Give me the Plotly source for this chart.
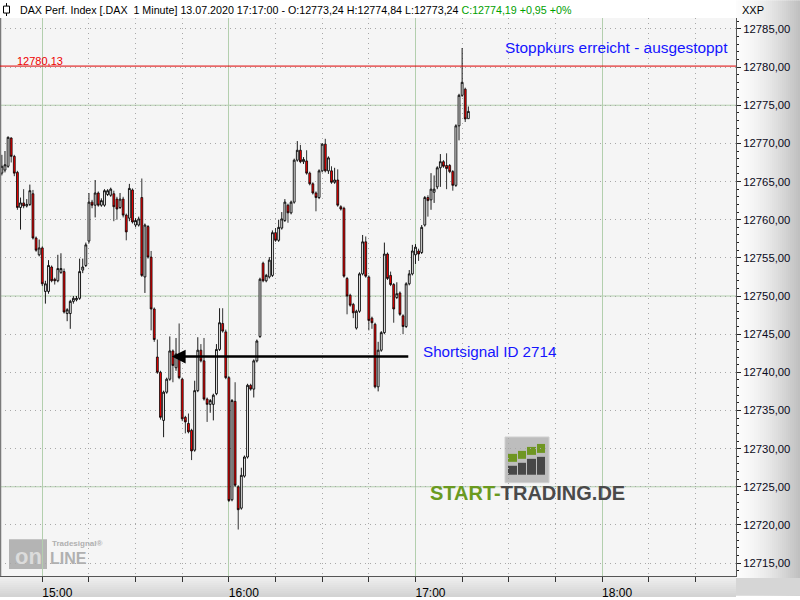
import pandas as pd
import plotly.graph_objects as go

# ---------------- data (1-minute candles, DAX 13.07.2020) ----------------
start_time = "2020-07-13 14:47"
open_ = [
    12766.1, 12766.5, 12767.0, 12770.7, 12768.3, 12766.2, 12761.6, 12762.2, 12761.8, 12762.0,
    12763.4, 12757.6, 12755.4, 12756.3, 12750.6, 12750.6, 12753.8, 12752.2, 12752.0, 12753.1,
    12753.2, 12747.7, 12747.7, 12749.3, 12749.5, 12749.7, 12753.4, 12754.0, 12757.2, 12762.3,
    12761.9, 12763.5, 12761.9, 12761.9, 12763.3, 12763.2, 12763.4, 12762.7, 12761.6, 12762.7,
    12760.6, 12760.2, 12763.9, 12759.3, 12759.3, 12762.9, 12752.5, 12759.1, 12755.1, 12748.3,
    12742.0, 12740.0, 12733.7, 12737.4, 12739.1, 12742.8, 12740.6, 12741.7, 12739.1, 12734.1,
    12733.3, 12732.4, 12729.8, 12737.6, 12742.9, 12741.5, 12736.5, 12735.8, 12735.8, 12737.2,
    12743.0, 12746.4, 12745.3, 12739.3, 12723.3, 12736.2, 12725.0, 12722.2, 12726.4, 12728.9,
    12738.3, 12737.8, 12741.5, 12744.7, 12754.3, 12752.0, 12752.5, 12752.7, 12758.3, 12757.3,
    12758.9, 12759.9, 12761.9, 12760.9, 12762.3, 12767.8, 12769.1, 12767.6, 12767.7, 12766.1,
    12764.7, 12763.5, 12762.9, 12766.4, 12769.9, 12766.4, 12766.4, 12764.9, 12765.2, 12761.7,
    12761.5, 12752.3, 12750.1, 12748.9, 12745.8, 12748.0, 12752.9, 12757.1, 12752.5, 12747.1,
    12746.3, 12738.1, 12742.9, 12745.2, 12755.5, 12752.7, 12751.5, 12749.8, 12750.4, 12747.4,
    12746.0, 12751.6, 12752.9, 12755.4, 12755.9, 12755.7, 12759.3, 12762.9, 12762.6, 12763.6,
    12764.3, 12766.8, 12767.6, 12767.1, 12767.1, 12766.3, 12764.5, 12772.3, 12776.3, 12777.1,
    12773.24,
]
high = [
    12768.5, 12769.0, 12770.9, 12770.8, 12768.5, 12766.4, 12762.9, 12764.0, 12762.7, 12764.6,
    12763.9, 12757.8, 12757.4, 12756.5, 12752.0, 12754.7, 12754.0, 12752.4, 12755.4, 12755.6,
    12753.6, 12748.4, 12749.5, 12750.0, 12750.0, 12754.9, 12754.9, 12757.0, 12763.5, 12762.6,
    12765.2, 12763.7, 12762.8, 12764.0, 12764.0, 12764.2, 12763.8, 12763.0, 12763.5, 12763.0,
    12760.8, 12764.7, 12764.1, 12760.2, 12760.4, 12765.4, 12759.5, 12759.3, 12755.9, 12748.5,
    12744.3, 12740.2, 12737.6, 12739.3, 12744.7, 12743.0, 12744.5, 12746.4, 12739.3, 12734.3,
    12734.6, 12732.6, 12738.9, 12744.6, 12743.7, 12744.5, 12736.7, 12736.5, 12737.2, 12743.7,
    12748.4, 12748.4, 12745.6, 12739.5, 12736.5, 12738.7, 12725.2, 12727.5, 12729.1, 12738.5,
    12738.5, 12741.7, 12744.3, 12752.4, 12754.5, 12752.9, 12755.1, 12758.6, 12758.9, 12760.0,
    12761.0, 12762.7, 12762.1, 12762.5, 12768.0, 12770.3, 12769.8, 12768.2, 12769.1, 12766.3,
    12764.9, 12763.7, 12766.6, 12770.0, 12770.6, 12768.3, 12767.0, 12766.8, 12766.6, 12761.9,
    12761.7, 12752.5, 12750.3, 12749.1, 12748.2, 12753.1, 12758.0, 12757.8, 12752.7, 12747.3,
    12746.5, 12744.0, 12745.4, 12757.0, 12755.7, 12753.2, 12751.7, 12751.8, 12750.6, 12747.6,
    12751.8, 12753.4, 12756.7, 12756.8, 12756.2, 12759.3, 12763.1, 12763.2, 12766.1, 12765.8,
    12767.0, 12768.6, 12767.8, 12768.7, 12767.3, 12766.5, 12772.5, 12776.5, 12782.5, 12777.3,
    12774.84,
]
low = [
    12765.8, 12766.2, 12766.8, 12767.5, 12765.7, 12761.3, 12758.7, 12761.5, 12761.6, 12761.8,
    12757.4, 12755.8, 12755.2, 12751.3, 12749.0, 12750.3, 12751.8, 12751.5, 12751.8, 12752.9,
    12747.7, 12746.7, 12745.7, 12749.0, 12749.3, 12749.5, 12753.0, 12753.8, 12756.9, 12761.5,
    12760.3, 12761.7, 12761.7, 12761.7, 12763.1, 12763.0, 12759.8, 12760.0, 12761.4, 12760.3,
    12757.3, 12759.8, 12759.5, 12759.0, 12759.1, 12752.5, 12750.4, 12754.9, 12745.5, 12744.0,
    12739.8, 12733.8, 12731.5, 12737.2, 12738.9, 12738.7, 12740.2, 12739.1, 12733.6, 12732.0,
    12732.0, 12728.5, 12729.6, 12737.4, 12741.3, 12736.3, 12733.5, 12734.7, 12733.7, 12737.0,
    12742.8, 12745.2, 12739.1, 12723.0, 12723.1, 12725.0, 12719.4, 12722.0, 12726.2, 12728.7,
    12737.6, 12736.7, 12741.3, 12744.5, 12751.8, 12751.8, 12752.3, 12752.5, 12757.1, 12757.1,
    12758.7, 12759.7, 12759.6, 12760.7, 12762.1, 12767.6, 12767.4, 12767.3, 12765.9, 12764.5,
    12763.3, 12761.1, 12762.7, 12766.2, 12766.2, 12766.0, 12764.7, 12764.7, 12761.7, 12761.2,
    12752.4, 12747.6, 12748.6, 12747.1, 12745.6, 12747.8, 12752.7, 12752.4, 12745.5, 12745.7,
    12737.9, 12737.5, 12742.7, 12745.0, 12752.1, 12751.3, 12746.5, 12749.6, 12747.4, 12745.0,
    12745.8, 12751.4, 12752.7, 12754.2, 12754.6, 12755.5, 12759.1, 12760.4, 12761.3, 12762.2,
    12764.0, 12764.3, 12766.8, 12764.0, 12766.1, 12763.8, 12764.3, 12770.4, 12776.1, 12772.8,
    12773.24,
]
close = [
    12767.0, 12767.2, 12770.8, 12768.3, 12766.1, 12761.6, 12762.2, 12761.8, 12762.0, 12763.8,
    12757.6, 12756.0, 12756.3, 12751.6, 12751.6, 12754.0, 12752.0, 12752.0, 12753.6, 12753.6,
    12747.9, 12748.2, 12749.3, 12749.7, 12749.7, 12753.2, 12753.8, 12756.7, 12762.3, 12761.9,
    12763.5, 12761.9, 12762.5, 12763.8, 12763.8, 12764.0, 12761.7, 12761.4, 12762.7, 12760.6,
    12758.4, 12764.1, 12759.7, 12759.9, 12760.1, 12752.7, 12759.3, 12755.1, 12748.3, 12744.3,
    12740.0, 12734.1, 12737.4, 12739.1, 12742.8, 12740.9, 12742.4, 12739.3, 12733.9, 12733.5,
    12732.2, 12729.7, 12737.6, 12742.9, 12741.5, 12736.5, 12735.8, 12736.3, 12737.0, 12743.0,
    12746.5, 12745.4, 12739.3, 12723.2, 12736.3, 12725.2, 12722.0, 12726.5, 12728.9, 12738.3,
    12737.8, 12741.5, 12744.1, 12752.2, 12752.0, 12752.7, 12754.7, 12758.3, 12757.3, 12759.0,
    12760.1, 12762.3, 12760.9, 12762.3, 12767.8, 12769.1, 12767.6, 12767.9, 12766.1, 12764.7,
    12763.5, 12762.9, 12766.4, 12769.9, 12766.4, 12768.1, 12764.9, 12765.2, 12761.9, 12761.4,
    12752.6, 12750.0, 12748.8, 12747.8, 12748.0, 12752.9, 12757.1, 12752.6, 12746.8, 12746.5,
    12738.1, 12742.9, 12745.2, 12755.5, 12752.3, 12751.5, 12748.3, 12750.3, 12747.6, 12746.0,
    12751.6, 12752.9, 12755.9, 12756.4, 12755.5, 12759.0, 12762.9, 12762.5, 12764.0, 12764.0,
    12766.8, 12767.6, 12767.0, 12766.7, 12766.3, 12764.5, 12772.3, 12776.3, 12778.0, 12773.2,
    12774.19,
]
times = pd.date_range(start_time, periods=len(close), freq="min")

stop_price = 12780.13
stop_label = "12780,13"
signal_price = 12742.07
signal_from = "2020-07-13 16:58:10"
signal_to = "2020-07-13 15:41:40"
y_ticks = [12715, 12720, 12725, 12730, 12735, 12740, 12745, 12750, 12755, 12760,
           12765, 12770, 12775, 12780, 12785]
green_levels = [12725, 12750, 12775]

header_text = ("DAX Perf. Index [.DAX  1 Minute] 13.07.2020 17:17:00 - "
               "O:12773,24 H:12774,84 L:12773,24 ")
header_green = "C:12774,19 +0,95 +0%"

# ---------------- layout helpers (pixel -> paper) ----------------
W, H = 800, 600
L_, R_, T_, B_ = 0, 64, 18, 20
PW, PH = W - L_ - R_, H - T_ - B_


def px(x):
    return (x - L_) / PW


def py(y):
    return (H - B_ - y) / PH


FONT = "Liberation Sans, Arial, sans-serif"

fig = go.Figure()
fig.add_trace(go.Candlestick(
    x=times, open=open_, high=high, low=low, close=close,
    increasing=dict(fillcolor="#ffffff", line=dict(color="#000000", width=0.9)),
    decreasing=dict(fillcolor="#ff0000", line=dict(color="#000000", width=0.8)),
    whiskerwidth=0, showlegend=False, hoverinfo="skip",
))

shapes = []
# gradient right axis panel
n = 32
for k in range(n):
    x0 = 736 + k * 2
    t = k / (n - 1)
    v = int(252 - 60 * (t ** 1.6))
    shapes.append(dict(type="rect", xref="paper", yref="paper",
                       x0=px(x0), x1=px(x0 + 2.2), y0=py(600), y1=py(0),
                       fillcolor=f"rgb({v},{v},{v})", line=dict(width=0), layer="below"))
# bottom axis panel gradient
for k in range(10):
    y0 = 581 + k * 2
    v = int(238 - 3 * k)
    shapes.append(dict(type="rect", xref="paper", yref="paper",
                       x0=px(0), x1=px(736), y0=py(y0 + 2.2), y1=py(y0),
                       fillcolor=f"rgb({v},{v},{v})", line=dict(width=0), layer="below"))
shapes.append(dict(type="rect", xref="paper", yref="paper",
                   x0=px(736), x1=px(800), y0=py(600), y1=py(582),
                   fillcolor="#d6d6d6", line=dict(width=0), layer="below"))
# left border
shapes.append(dict(type="line", xref="paper", yref="paper", x0=px(0.5), x1=px(0.5),
                   y0=py(580), y1=py(18), line=dict(color="#7a7a7a", width=1.5)))
# green horizontal grid lines
for g in green_levels:
    shapes.append(dict(type="line", xref="paper", yref="y", x0=0, x1=1, y0=g, y1=g,
                       line=dict(color="#b3cfae", width=1), layer="below"))
# stop level line
shapes.append(dict(type="line", xref="paper", yref="y", x0=0, x1=1,
                   y0=stop_price, y1=stop_price, line=dict(color="#dd0000", width=1)))
# header icon
shapes.append(dict(type="line", xref="paper", yref="paper", x0=px(6.5), x1=px(6.5),
                   y0=py(16), y1=py(3), line=dict(color="#000", width=1)))
shapes.append(dict(type="rect", xref="paper", yref="paper", x0=px(3.5), x1=px(9.5),
                   y0=py(13), y1=py(6), fillcolor="#fff", line=dict(color="#000", width=1)))

# START-TRADING icon watermark
shapes.append(dict(type="rect", xref="paper", yref="paper", x0=px(505), x1=px(549),
                   y0=py(486), y1=py(440), fillcolor="#bdbdbd",
                   line=dict(color="#d0d0d0", width=1), layer="below"))
bar_specs = [(508, 517, 457, 465, 478), (518, 526, 454, 462, 478),
             (527, 536, 450, 458, 478), (537, 545, 447, 456, 478)]
for x0, x1, gt, gb, bb in bar_specs:
    shapes.append(dict(type="rect", xref="paper", yref="paper", x0=px(x0), x1=px(x1),
                       y0=py(gb), y1=py(gt), fillcolor="#6f9622", line=dict(width=0),
                       layer="below"))
    shapes.append(dict(type="rect", xref="paper", yref="paper", x0=px(x0), x1=px(x1),
                       y0=py(bb), y1=py(gb + 4), fillcolor="#474747", line=dict(width=0),
                       layer="below"))
# Tradesignal online watermark box
shapes.append(dict(type="rect", xref="paper", yref="paper", x0=px(9), x1=px(47),
                   y0=py(573), y1=py(543), fillcolor="#b4b4b4", line=dict(width=0),
                   layer="below"))

annotations = [
    dict(x=px(18), y=py(9.5), xref="paper", yref="paper", xanchor="left", yanchor="middle",
         text=header_text + f'<span style="color:#00a000">{header_green}</span>',
         showarrow=False, font=dict(family=FONT, size=10.7, color="#000")),
    dict(x=px(740), y=py(10), xref="paper", yref="paper", xanchor="left", yanchor="middle",
         text="XXP", showarrow=False, font=dict(family=FONT, size=11, color="#000")),
    dict(x=px(503), y=py(48), xref="paper", yref="paper", xanchor="left", yanchor="middle",
         text="Stoppkurs erreicht - ausgestoppt", showarrow=False,
         font=dict(family=FONT, size=15.4, color="#1414ff")),
    dict(x=px(421), y=py(354), xref="paper", yref="paper", xanchor="left", yanchor="middle",
         text="Shortsignal ID 2714", showarrow=False,
         font=dict(family=FONT, size=15.2, color="#1414ff")),
    dict(x=px(15), y=py(61), xref="paper", yref="paper", xanchor="left", yanchor="middle",
         text=stop_label, showarrow=False, font=dict(family=FONT, size=11, color="#ee0000")),
    dict(x=signal_to, y=signal_price, ax=signal_from, ay=signal_price,
         xref="x", yref="y", axref="x", ayref="y", text="", showarrow=True,
         arrowhead=2, arrowsize=1.1, arrowwidth=2.5, arrowcolor="#000"),
    dict(x=px(527), y=py(496), xref="paper", yref="paper", xanchor="center",
         yanchor="middle", showarrow=False,
         text='<b><span style="color:#6a9a1f">START-</span>'
              '<span style="color:#4a4a4a">TRADING.DE</span></b>',
         font=dict(family=FONT, size=20)),
    dict(x=px(28), y=py(560), xref="paper", yref="paper", xanchor="center",
         yanchor="middle", showarrow=False, text="<b>on</b>",
         font=dict(family=FONT, size=22, color="#dcdcdc")),
    dict(x=px(48), y=py(562), xref="paper", yref="paper", xanchor="left",
         yanchor="middle", showarrow=False, text="<b>LINE</b>",
         font=dict(family=FONT, size=16, color="#b0b0b0")),
    dict(x=px(50), y=py(547), xref="paper", yref="paper", xanchor="left",
         yanchor="middle", showarrow=False, text="<b>Tradesignal®</b>",
         font=dict(family=FONT, size=8, color="#b0b0b0")),
]

fig.update_layout(
    width=W, height=H, autosize=False,
    margin=dict(l=L_, r=R_, t=T_, b=B_, pad=0),
    paper_bgcolor="#ffffff", plot_bgcolor="#f5f5f5",
    separators=",.",
    showlegend=False, boxgap=0.15,
    shapes=shapes, annotations=annotations,
    xaxis=dict(
        type="date", range=["2020-07-13 14:46:24", "2020-07-13 18:43:04"],
        rangeslider=dict(visible=False),
        tick0="2020-07-13 15:00", dtick=3600000, tickformat="%H:%M",
        showgrid=True, gridcolor="#b3cfae", gridwidth=1,
        ticks="outside", ticklen=5, tickcolor="#333", tickwidth=1,
        ticklabelshift=15, ticklabelstandoff=1,
        tickfont=dict(family=FONT, size=12, color="#000"),
        showline=True, linecolor="#555", linewidth=1,
        zeroline=False, fixedrange=True,
        minor=dict(dtick=900000, tick0="2020-07-13 15:00", showgrid=True,
                   gridcolor="#a8a8a8", griddash="1px,4px", gridwidth=1,
                   ticks="outside", ticklen=5, tickcolor="#333"),
    ),
    yaxis=dict(
        side="right", range=[12713.31, 12786.43],
        tickvals=y_ticks, tickformat=".2f",
        showgrid=True, gridcolor="#a8a8a8", griddash="1px,4px", gridwidth=1,
        ticks="outside", ticklen=4, tickcolor="#222",
        tickfont=dict(family=FONT, size=11.3, color="#0a0a20"),
        showline=True, linecolor="#555", linewidth=1,
        zeroline=False, fixedrange=True,
        minor=dict(dtick=1, ticks="outside", ticklen=2, tickcolor="#222", showgrid=False),
    ),
)

fig.write_html("out.html", config={"displayModeBar": False},
               post_script="document.body.style.margin='0';")
